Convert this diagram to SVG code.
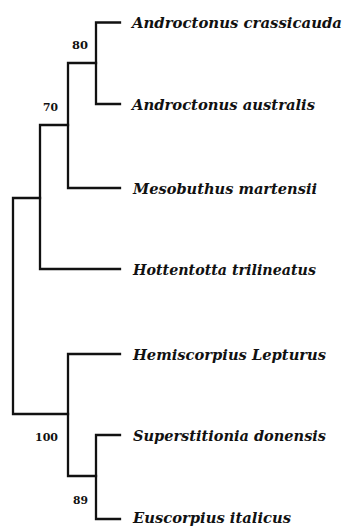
<svg xmlns="http://www.w3.org/2000/svg" width="348" height="527" viewBox="0 0 348 527">
<style>
.b{fill:none;stroke:#111;stroke-width:2.3;stroke-linecap:square}
.t{font-family:"DejaVu Serif","Liberation Serif",serif;font-style:italic;font-weight:bold;font-size:15px;fill:#111}
.s{font-family:"DejaVu Serif","Liberation Serif",serif;font-weight:bold;font-size:10.5px;fill:#111}
</style>
<rect width="348" height="527" fill="#fff"/>
<g id="connectors">
<path class="b" d="M96,22.5H120M96,22.5V104H120"/>
<path class="b" d="M68,63H96M68,63V188H120"/>
<path class="b" d="M40,125H68M40,125V269H120"/>
<path class="b" d="M13,198H40M13,198V414H68"/>
<path class="b" d="M68,354H120M68,354V476H96"/>
<path class="b" d="M96,435H120M96,435V519H120"/>
</g>
<g id="leaf-crassicauda"><text class="t" x="132" y="28" textLength="210" lengthAdjust="spacingAndGlyphs">Androctonus crassicauda</text></g>
<g id="leaf-australis"><text class="t" x="132" y="109.5" textLength="183" lengthAdjust="spacingAndGlyphs">Androctonus australis</text></g>
<g id="leaf-mesobuthus"><text class="t" x="133" y="193.5" textLength="184" lengthAdjust="spacingAndGlyphs">Mesobuthus martensii</text></g>
<g id="leaf-hottentotta"><text class="t" x="133" y="274.5" textLength="183" lengthAdjust="spacingAndGlyphs">Hottentotta trilineatus</text></g>
<g id="leaf-hemiscorpius"><text class="t" x="133" y="359.5" textLength="193" lengthAdjust="spacingAndGlyphs">Hemiscorpius Lepturus</text></g>
<g id="leaf-superstitionia"><text class="t" x="133" y="440.5" textLength="193" lengthAdjust="spacingAndGlyphs">Superstitionia donensis</text></g>
<g id="leaf-euscorpius"><text class="t" x="133" y="522.5" textLength="158" lengthAdjust="spacingAndGlyphs">Euscorpius italicus</text></g>
<g id="node-80"><text class="s" x="72" y="49" textLength="16" lengthAdjust="spacingAndGlyphs">80</text></g>
<g id="node-70"><text class="s" x="43" y="111" textLength="15" lengthAdjust="spacingAndGlyphs">70</text></g>
<g id="node-100"><text class="s" x="35" y="441" textLength="23" lengthAdjust="spacingAndGlyphs">100</text></g>
<g id="node-89"><text class="s" x="73" y="504" textLength="15" lengthAdjust="spacingAndGlyphs">89</text></g>
</svg>
